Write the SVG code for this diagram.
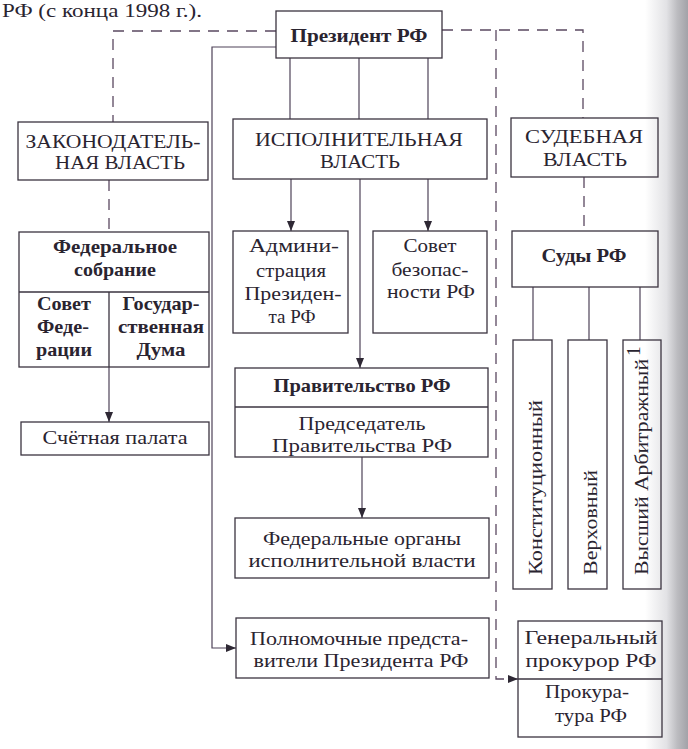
<svg xmlns="http://www.w3.org/2000/svg" width="688" height="749" viewBox="0 0 688 749">
<defs>
<style>
.box{fill:none;stroke:#3b3440;stroke-width:1.3}
.ln{fill:none;stroke:#4e4258;stroke-width:1.2}
.dash{fill:none;stroke:#5a4860;stroke-width:1.3;stroke-dasharray:11 8}
.t{font-family:"Liberation Serif","DejaVu Serif",serif;font-size:19.5px;fill:#2a2430;text-anchor:middle}
.b{font-weight:bold}
.s{text-anchor:start}
</style>
<marker id="arr" markerUnits="userSpaceOnUse" markerWidth="10" markerHeight="8" refX="10" refY="4" orient="auto">
<path d="M0,0 L10,4 L0,8 z" fill="#2e2834"/>
</marker>
<linearGradient id="edge" x1="0" y1="0" x2="1" y2="0">
<stop offset="0" stop-color="#ffffff"/>
<stop offset="0.5" stop-color="#e2e2e5"/>
<stop offset="0.75" stop-color="#bcbcc0"/>
<stop offset="1" stop-color="#a2a2a8"/>
</linearGradient>
</defs>
<rect x="0" y="0" width="688" height="749" fill="#ffffff"/>
<rect x="645" y="0" width="43" height="749" fill="url(#edge)"/>
<text class="t s" x="2" y="17" font-size="15" textLength="200" lengthAdjust="spacingAndGlyphs">РФ (с конца 1998 г.).</text>

<g id="connectors">
<path class="dash" d="M276,31 H113 V122"/>
<path class="dash" d="M442,30 H583 V118"/>
<path class="dash" d="M496,30 V679 H518" marker-end="url(#arr)"/>
<path class="dash" d="M109,180 V232"/>
<path class="dash" d="M584,177 V231"/>
<path class="ln" d="M276,47 H212 V648 H236" marker-end="url(#arr)"/>
<path class="ln" d="M290,58 V119"/>
<path class="ln" d="M359,58 V119"/>
<path class="ln" d="M428,58 V119"/>
<path class="ln" d="M291,179 V231" marker-end="url(#arr)"/>
<path class="ln" d="M428,179 V231" marker-end="url(#arr)"/>
<path class="ln" d="M360,179 V368" marker-end="url(#arr)"/>
<path class="ln" d="M362,457 V518" marker-end="url(#arr)"/>
<path class="ln" d="M109,367 V422" marker-end="url(#arr)"/>
<path class="ln" d="M533,287 V340"/>
<path class="ln" d="M589,287 V340"/>
<path class="ln" d="M640,287 V340"/>
</g>

<g id="president">
<rect class="box" x="276" y="11" width="166" height="47"/>
<text class="t b" x="359" y="42" textLength="137" lengthAdjust="spacingAndGlyphs">Президент РФ</text>
</g>

<g id="legislative">
<rect class="box" x="18" y="122" width="190" height="58"/>
<text class="t" x="113" y="148" textLength="175" lengthAdjust="spacingAndGlyphs">ЗАКОНОДАТЕЛЬ-</text>
<text class="t" x="120" y="169" textLength="130" lengthAdjust="spacingAndGlyphs">НАЯ ВЛАСТЬ</text>
</g>

<g id="executive">
<rect class="box" x="233" y="119" width="254" height="60"/>
<text class="t" x="359" y="146" textLength="208" lengthAdjust="spacingAndGlyphs">ИСПОЛНИТЕЛЬНАЯ</text>
<text class="t" x="360" y="168" textLength="80" lengthAdjust="spacingAndGlyphs">ВЛАСТЬ</text>
</g>

<g id="judicial">
<rect class="box" x="511" y="118" width="147" height="59"/>
<text class="t" x="584" y="143" textLength="118" lengthAdjust="spacingAndGlyphs">СУДЕБНАЯ</text>
<text class="t" x="585" y="166" textLength="84" lengthAdjust="spacingAndGlyphs">ВЛАСТЬ</text>
</g>

<g id="federal-assembly">
<rect class="box" x="19" y="232" width="190" height="135"/>
<path class="box" d="M19,292 H209 M109,292 V367"/>
<text class="t b" x="115" y="253" textLength="124" lengthAdjust="spacingAndGlyphs">Федеральное</text>
<text class="t b" x="115" y="276" textLength="82" lengthAdjust="spacingAndGlyphs">собрание</text>
</g>

<g id="federation-council">
<text class="t b" x="64" y="310" textLength="54" lengthAdjust="spacingAndGlyphs">Совет</text>
<text class="t b" x="63" y="333" textLength="52" lengthAdjust="spacingAndGlyphs">Феде-</text>
<text class="t b" x="64" y="356" textLength="56" lengthAdjust="spacingAndGlyphs">рации</text>
</g>

<g id="state-duma">
<text class="t b" x="161" y="310" textLength="77" lengthAdjust="spacingAndGlyphs">Государ-</text>
<text class="t b" x="161" y="333" textLength="86" lengthAdjust="spacingAndGlyphs">ственная</text>
<text class="t b" x="161" y="356" textLength="49" lengthAdjust="spacingAndGlyphs">Дума</text>
</g>

<g id="accounts-chamber">
<rect class="box" x="21" y="422" width="188" height="33"/>
<text class="t" x="115" y="444" textLength="145" lengthAdjust="spacingAndGlyphs">Счётная палата</text>
</g>

<g id="administration">
<rect class="box" x="233" y="231" width="115" height="102"/>
<text class="t" x="294" y="252" textLength="90" lengthAdjust="spacingAndGlyphs">Админи-</text>
<text class="t" x="291" y="277" textLength="70" lengthAdjust="spacingAndGlyphs">страция</text>
<text class="t" x="293" y="300" textLength="97" lengthAdjust="spacingAndGlyphs">Президен-</text>
<text class="t" x="292" y="323" textLength="47" lengthAdjust="spacingAndGlyphs">та РФ</text>
</g>

<g id="security-council">
<rect class="box" x="373" y="231" width="114" height="102"/>
<text class="t" x="430" y="252" textLength="53" lengthAdjust="spacingAndGlyphs">Совет</text>
<text class="t" x="430" y="276" textLength="77" lengthAdjust="spacingAndGlyphs">безопас-</text>
<text class="t" x="431" y="298" textLength="88" lengthAdjust="spacingAndGlyphs">ности РФ</text>
</g>

<g id="government">
<rect class="box" x="235" y="368" width="253" height="89"/>
<path class="box" d="M235,407 H488"/>
<text class="t b" x="362" y="392" textLength="177" lengthAdjust="spacingAndGlyphs">Правительство РФ</text>
<text class="t" x="362" y="430" textLength="127" lengthAdjust="spacingAndGlyphs">Председатель</text>
<text class="t" x="362" y="452" textLength="180" lengthAdjust="spacingAndGlyphs">Правительства РФ</text>
</g>

<g id="federal-bodies">
<rect class="box" x="235" y="518" width="254" height="60"/>
<text class="t" x="362" y="545" textLength="198" lengthAdjust="spacingAndGlyphs">Федеральные органы</text>
<text class="t" x="362" y="567" textLength="227" lengthAdjust="spacingAndGlyphs">исполнительной власти</text>
</g>

<g id="envoys">
<rect class="box" x="236" y="618" width="253" height="60"/>
<text class="t" x="359" y="645" textLength="218" lengthAdjust="spacingAndGlyphs">Полномочные предста-</text>
<text class="t" x="361" y="667" textLength="215" lengthAdjust="spacingAndGlyphs">вители Президента РФ</text>
</g>

<g id="courts">
<rect class="box" x="512" y="231" width="146" height="56"/>
<text class="t b" x="584" y="262" textLength="85" lengthAdjust="spacingAndGlyphs">Суды РФ</text>
</g>

<g id="constitutional">
<rect class="box" x="513" y="340" width="39" height="249"/>
<text class="t s" transform="translate(542,575) rotate(-90)" x="0" y="0" textLength="175" lengthAdjust="spacingAndGlyphs">Конституционный</text>
</g>

<g id="supreme">
<rect class="box" x="568" y="340" width="39" height="249"/>
<text class="t s" transform="translate(597,575) rotate(-90)" x="0" y="0" textLength="105" lengthAdjust="spacingAndGlyphs">Верховный</text>
</g>

<g id="arbitration">
<rect class="box" x="623" y="340" width="38" height="249"/>
<text class="t s" transform="translate(648,575) rotate(-90)" x="0" y="0" textLength="216" lengthAdjust="spacingAndGlyphs">Высший Арбитражный</text>
<text class="t s" transform="translate(648,575) rotate(-90)" x="219" y="-8" font-size="11">1</text>
</g>

<g id="prosecutor">
<rect class="box" x="518" y="621" width="144" height="116"/>
<path class="box" d="M518,679 H662"/>
<text class="t" x="591" y="644" textLength="133" lengthAdjust="spacingAndGlyphs">Генеральный</text>
<text class="t" x="591" y="667" textLength="131" lengthAdjust="spacingAndGlyphs">прокурор РФ</text>
<text class="t" x="587" y="698" textLength="84" lengthAdjust="spacingAndGlyphs">Прокура-</text>
<text class="t" x="591" y="722" textLength="72" lengthAdjust="spacingAndGlyphs">тура РФ</text>
</g>
</svg>
